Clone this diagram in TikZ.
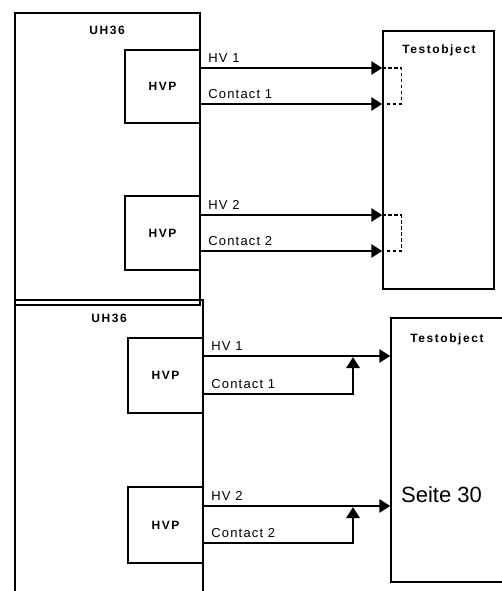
\documentclass[tikz,border=0pt]{standalone}
\usepackage{fontspec}
\setmainfont{Liberation Sans}
\newfontfamily\lblfont[LetterSpace=9]{Liberation Sans}
\newfontfamily\hdrfont[LetterSpace=13]{Liberation Sans}
\usetikzlibrary{arrows.meta}
\begin{document}
\begin{tikzpicture}[x=1pt,y=-1pt,line width=1.4pt,
  box/.style={draw,inner sep=0pt,font=\hdrfont\bfseries\fontsize{12}{14}\selectfont},
  sig/.style={line width=2.8pt},
  tip/.style={-{Triangle[length=11pt,width=13pt]}},
  bridge/.style={line width=1.3pt,dash pattern=on 3.5pt off 2.5pt},
  pin/.style={anchor=base west,inner sep=0pt,xshift=7pt,yshift=5.5pt,font=\lblfont\fontsize{13}{15}\selectfont},
  head/.style={anchor=base,inner sep=0pt,font=\hdrfont\bfseries\fontsize{12}{14}\selectfont}]
\useasboundingbox (0,0) rectangle (501,591);
% upper setup
\node[box,minimum width=185pt,minimum height=292pt] (uhA) at (107.5,159) {};
\node[box,minimum width=111pt,minimum height=258pt] (toA) at (438.5,160) {};
\node[box,minimum width=75pt,minimum height=73pt] (hvpA) at (162.5,86.5) {HVP};
\node[box,minimum width=75pt,minimum height=74pt] (hvpB) at (162.5,233) {HVP};
\node[head] (uhAl) at (107,35) {UH36};
\node[head] (toAl) at (439,54) {Testobject};
\foreach \N/\k/\h/\c in {hvpA/1/68/104,hvpB/2/215/251}{
\coordinate (hvA\k) at (\N.east |- 0,\h);\coordinate (ctA\k) at (\N.east |- 0,\c);
\draw[sig,tip] (hvA\k) -- (hvA\k -| toA.west);
\draw[sig,tip] (ctA\k) -- (ctA\k -| toA.west);
\draw[bridge] (hvA\k -| toA.west) -- ++(19,0) |- (ctA\k -| toA.west);
\node[pin] at (hvA\k) {HV \k};
\node[pin] at (ctA\k) {Contact \k};}
% lower setup
\node[box,minimum width=188pt,minimum height=300pt] (uhB) at (109,450) {};
\node[box,minimum width=130pt,minimum height=264pt] (toB) at (456,450) {};
\node[box,minimum width=75pt,minimum height=75pt] (hvpC) at (165.5,375.5) {HVP};
\node[box,minimum width=75pt,minimum height=76pt] (hvpD) at (165.5,525) {HVP};
\node[head] (uhBl) at (109,322.7) {UH36};
\node[head] (toBl) at (447,342) {Testobject};
\node[anchor=base west,inner sep=0pt,font=\fontsize{22}{26}\selectfont] (seite) at (400.5,502) {Seite 30};
\foreach \N/\k/\h/\c in {hvpC/1/356/394,hvpD/2/506/543}{
\coordinate (hvB\k) at (\N.east |- 0,\h);\coordinate (ctB\k) at (\N.east |- 0,\c);
\coordinate (jn\k) at (353,\h+1);
\draw[sig,tip] (hvB\k) -- (hvB\k -| toB.west);
\draw[sig,tip] (ctB\k) -| (jn\k);
\node[pin] at (hvB\k) {HV \k};
\node[pin] at (ctB\k) {Contact \k};}
\end{tikzpicture}
\end{document}
